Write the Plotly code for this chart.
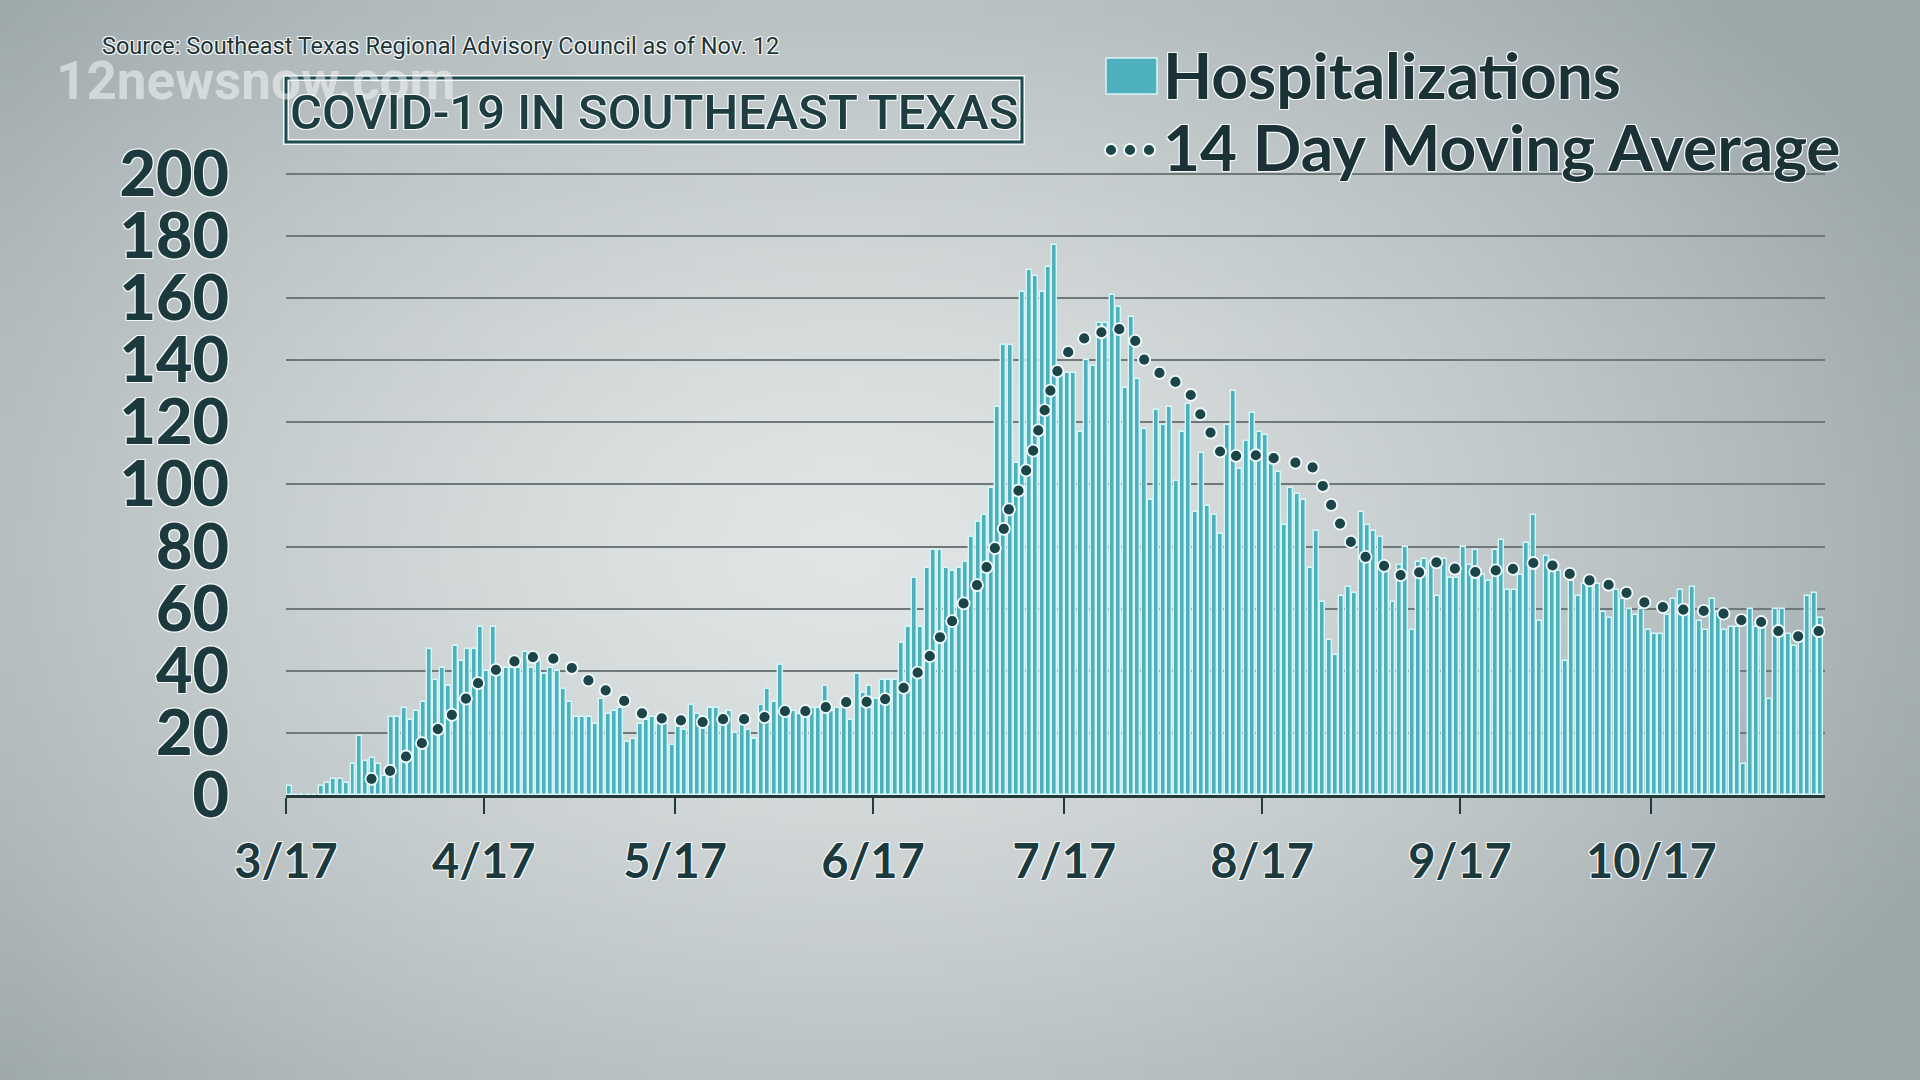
import base64, zlib, struct
import numpy as np
import pandas as pd
import plotly.graph_objects as go

# ---------------- data ----------------
start_date = "2020-03-17"
hospitalizations = [
    3, 0, 0, 0, 0, 3, 4, 5, 5, 4, 10, 19, 11, 12, 10, 6, 25, 25, 28, 24,
    27, 30, 47, 37, 41, 35, 48, 43, 47, 47, 54, 40, 54, 39, 41, 41, 41, 46, 41, 43,
    39, 41, 40, 34, 30, 25, 25, 25, 23, 31, 26, 27, 28, 17, 18, 23, 24, 25, 25, 23,
    16, 22, 21, 29, 26, 24, 28, 28, 26, 27, 20, 23, 21, 18, 29, 34, 30, 42, 27, 27,
    26, 27, 28, 28, 35, 27, 28, 30, 24, 39, 33, 35, 31, 37, 37, 37, 49, 54, 70, 54,
    73, 79, 79, 73, 72, 73, 75, 83, 88, 90, 99, 125, 145, 145, 107, 162, 169, 167, 162, 170,
    177, 136, 136, 136, 117, 140, 138, 152, 152, 161, 157, 131, 154, 134, 118, 95, 124, 119, 125, 101,
    117, 126, 91, 110, 93, 90, 84, 119, 130, 105, 114, 123, 117, 116, 110, 104, 87, 99, 97, 95,
    73, 85, 62, 50, 45, 64, 67, 65, 91, 87, 85, 83, 73, 62, 74, 80, 53, 75, 76, 75,
    64, 76, 70, 70, 80, 74, 79, 71, 69, 79, 82, 66, 66, 71, 81, 90, 56, 77, 74, 72,
    43, 69, 64, 68, 67, 68, 59, 57, 66, 63, 60, 58, 60, 53, 52, 52, 58, 63, 66, 61,
    67, 56, 53, 63, 59, 53, 54, 54, 10, 60, 54, 54, 31, 60, 60, 52, 48, 52, 64, 65,
    57,
]
dates = pd.date_range(start_date, periods=len(hospitalizations), freq="D")

# 14-day moving average, dot positions (days after 3/17 00:00)
ma_day = [13.4, 16.3, 18.8, 21.3, 23.8, 26.0, 28.2, 30.1, 32.9, 35.8, 38.7, 41.9, 44.8,
          47.4, 50.1, 53.0, 55.8, 58.9, 61.9, 65.3, 68.5, 71.8, 75.0, 78.2, 81.4, 84.6,
          87.8, 91.0, 93.9, 96.8, 99.0, 100.9, 102.5, 104.4, 106.2, 108.3, 109.8, 111.1,
          112.5, 113.3, 114.8, 116.0, 117.1, 117.9, 118.9, 119.8, 120.9, 122.6, 125.1,
          127.8, 130.6, 133.1, 134.5, 136.9, 139.4, 141.8, 143.3, 144.9, 146.4, 148.9,
          152.0, 154.8, 158.2, 160.9, 162.5, 163.8, 165.2, 166.9, 169.2, 172.1, 174.7,
          177.6, 180.3, 183.2, 186.4, 189.6, 192.3, 195.5, 198.5, 201.2, 204.3, 207.3,
          210.1, 212.9, 215.8, 219.0, 222.2, 225.3, 228.1, 231.2, 233.9, 237.0, 240.2]
ma_value = [5.2, 7.8, 12.4, 16.7, 21.2, 25.8, 31, 36, 40.3, 43, 44.4, 43.9, 40.9,
            36.9, 33.7, 30.3, 26.3, 24.7, 24.0, 23.5, 24.4, 24.4, 25.1, 27, 27, 28.3,
            29.9, 30, 30.9, 34.5, 39.4, 44.7, 50.8, 56, 61.7, 67.6, 73.4, 79.5,
            85.7, 92, 98, 104.5, 110.9, 117.4, 123.9, 130.2, 136.5, 142.6, 147,
            149, 150, 146.2, 140.2, 135.9, 133, 128.8, 122.6, 116.7, 110.6, 109.2,
            109.4, 108.5, 107, 105.5, 99.5, 93.4, 87.4, 81.5, 76.7, 73.8, 70.8,
            71.7, 74.9, 72.9, 71.8, 72.3, 72.8, 74.7, 73.9, 71.2, 69.1, 67.7,
            65.1, 62, 60.5, 59.7, 59.3, 58.4, 56.3, 55.7, 52.8, 51.1, 52.8]
ma_dates = pd.Timestamp(start_date) + pd.to_timedelta(ma_day, unit="D")

tick_dates = ["2020-03-17", "2020-04-17", "2020-05-17", "2020-06-17",
              "2020-07-17", "2020-08-17", "2020-09-17", "2020-10-17"]
tick_text = ["3/17", "4/17", "5/17", "6/17", "7/17", "8/17", "9/17", "10/17"]
y_ticks = [0, 20, 40, 60, 80, 100, 120, 140, 160, 180, 200]

# ---------------- layout geometry ----------------
W, H = 1920, 1080
L, R, T, B = 286, 1825, 172, 795
PW, PH = R - L, B - T


def px(x):
    return (x - L) / PW


def py(y):
    return (B - y) / PH


DARK = "#1c3a3e"
TEAL = "#4eb0bc"
PALE = "#d4f7f9"
OUTLINE = "-1px -1px 0 #f4f8f8, 1px -1px 0 #f4f8f8, -1px 1px 0 #f4f8f8, 1px 1px 0 #f4f8f8"


# ---------------- background gradient image ----------------
def png_data_uri(arr):
    h, w, _ = arr.shape
    raw = b"".join(b"\x00" + arr[i].tobytes() for i in range(h))

    def chunk(tag, data):
        c = struct.pack(">I", len(data)) + tag + data
        return c + struct.pack(">I", zlib.crc32(tag + data) & 0xffffffff)

    png = (b"\x89PNG\r\n\x1a\n"
           + chunk(b"IHDR", struct.pack(">IIBBBBB", w, h, 8, 2, 0, 0, 0))
           + chunk(b"IDAT", zlib.compress(raw, 9))
           + chunk(b"IEND", b""))
    return "data:image/png;base64," + base64.b64encode(png).decode()


gw, gh = 192, 108
yy, xx = np.mgrid[0:gh, 0:gw].astype(float)
t = np.sqrt(((xx - 0.44 * gw) / (0.62 * gw)) ** 2 + ((yy - 0.5 * gh) / (0.75 * gh)) ** 2)
t = np.clip(t, 0, 1) ** 1.4
inner = np.array([225, 229, 229], float)
outer = np.array([156, 167, 170], float)
img = (inner[None, None, :] + (outer - inner)[None, None, :] * t[:, :, None]).astype(np.uint8)
bg_uri = png_data_uri(img)

# ---------------- figure ----------------
fig = go.Figure()
fig.add_trace(go.Bar(
    x=dates, y=hospitalizations, name="Hospitalizations",
    xperiod=86400000, xperiodalignment="middle",
    width=0.78 * 86400000,
    marker=dict(color=TEAL, line=dict(color=PALE, width=1.4)),
))
fig.add_trace(go.Scatter(
    x=ma_dates, y=ma_value, mode="markers", name="14 Day Moving Average",
    marker=dict(size=12, color="#1b4549", line=dict(color="#f2fbfb", width=1.8)),
))

fig.update_layout(
    width=W, height=H, autosize=False,
    margin=dict(l=L, r=W - R, t=T, b=H - B, pad=0),
    paper_bgcolor="#cfd4d5", plot_bgcolor="rgba(0,0,0,0)",
    showlegend=False, bargap=0,
    images=[dict(source=bg_uri, xref="paper", yref="paper",
                 x=px(0), y=py(0), sizex=W / PW, sizey=H / PH,
                 xanchor="left", yanchor="top", sizing="stretch", layer="below")],
    xaxis=dict(
        type="date", range=["2020-03-17", "2020-11-13 05:00"],
        tickvals=tick_dates, ticktext=tick_text,
        showgrid=False, zeroline=False,
        showline=True, linecolor="#23393c", linewidth=3,
        ticks="outside", ticklen=16, tickwidth=2, tickcolor="#23393c",
        ticklabelstandoff=8,
        tickfont=dict(family="Lato", size=47, weight=700, color=DARK, shadow=OUTLINE),
    ),
    yaxis=dict(
        range=[0, 200.6], tickvals=y_ticks,
        showgrid=True, gridcolor="#6f797a", gridwidth=2,
        zeroline=False, showline=False, ticks="",
        ticklabelstandoff=56,
        tickfont=dict(family="Lato", size=63, weight=900, color=DARK, shadow=OUTLINE),
    ),
)

# source, watermark, title box
fig.add_annotation(text="Source: Southeast Texas Regional Advisory Council as of Nov. 12",
                   xref="paper", yref="paper", x=px(100), y=py(46),
                   xanchor="left", yanchor="middle", showarrow=False,
                   font=dict(family="Roboto", size=23.5, color="#1f3437", shadow=OUTLINE))
fig.add_annotation(text="12newsnow.com", xref="paper", yref="paper", x=px(54), y=py(81),
                   xanchor="left", yanchor="middle", showarrow=False, opacity=0.55,
                   font=dict(family="Roboto", size=53, weight=700, color="#f4f6f6"))
fig.add_shape(type="rect", xref="paper", yref="paper",
              x0=px(286), x1=px(1022), y0=py(78), y1=py(142),
              line=dict(color="#f2f7f7", width=6), fillcolor="rgba(0,0,0,0)")
fig.add_shape(type="rect", xref="paper", yref="paper",
              x0=px(286), x1=px(1022), y0=py(78), y1=py(142),
              line=dict(color="#1d4a4e", width=3), fillcolor="rgba(0,0,0,0)")
fig.add_annotation(text="COVID-19 IN SOUTHEAST TEXAS", xref="paper", yref="paper",
                   x=px(654), y=py(112), xanchor="center", yanchor="middle", showarrow=False,
                   font=dict(family="Roboto", size=49, weight=500, color="#1d3d41", shadow=OUTLINE))

# manual legend
fig.add_shape(type="rect", xref="paper", yref="paper",
              x0=px(1106), x1=px(1157), y0=py(58), y1=py(94),
              line=dict(color=PALE, width=1.5), fillcolor=TEAL)
fig.add_annotation(text="Hospitalizations", xref="paper", yref="paper",
                   x=px(1161), y=py(75), xanchor="left", yanchor="middle", showarrow=False,
                   font=dict(family="Lato", size=64, weight=700, color="#1a3236", shadow=OUTLINE))
for cx in (1111, 1130, 1149):
    fig.add_shape(type="circle", xref="paper", yref="paper",
                  x0=px(cx - 6), x1=px(cx + 6), y0=py(144), y1=py(156),
                  line=dict(color="#f2fbfb", width=1.8), fillcolor="#1b4549")
fig.add_annotation(text="14 Day Moving Average", xref="paper", yref="paper",
                   x=px(1161), y=py(147), xanchor="left", yanchor="middle", showarrow=False,
                   font=dict(family="Lato", size=64, weight=700, color="#1a3236", shadow=OUTLINE))

fig.write_html("out.html")
